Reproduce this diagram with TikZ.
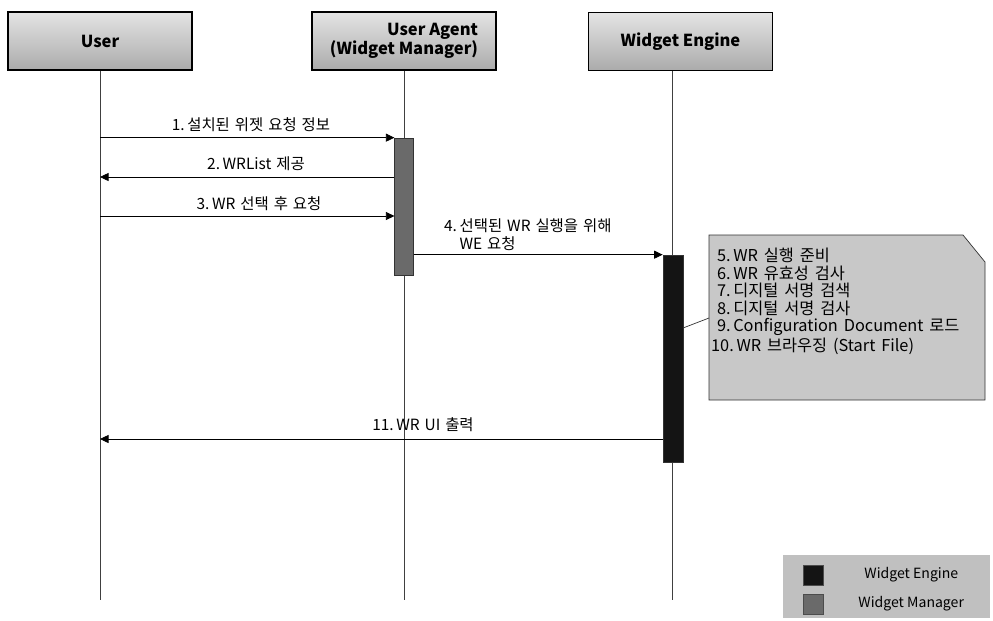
\documentclass[tikz,border=0pt]{standalone}
\usepackage{fontspec}
\setmainfont{Noto Sans CJK KR}
\usetikzlibrary{arrows.meta, positioning}
\definecolor{hdrTop}{HTML}{E4E4E4}
\definecolor{hdrBot}{HTML}{ABABAB}
\definecolor{wmGray}{HTML}{6A6A6A}
\definecolor{weBlack}{HTML}{141414}
\definecolor{noteGray}{HTML}{C8C8C8}
\definecolor{legGray}{HTML}{C0C0C0}
\newcommand\msgfont{\fontsize{8.8}{10}\selectfont\spaceskip 0.32em\relax}
\newcommand\notefont{\fontsize{9.3}{10}\selectfont\spaceskip 0.36em\relax}

\begin{document}
\begin{tikzpicture}[x=0.02cm, y=-0.02cm,
  actor/.style={draw=black, thick, top color=hdrTop, bottom color=hdrBot,
                minimum width=3.68cm, minimum height=1.16cm,
                font=\fontsize{9.4}{10.8}\selectfont\bfseries, align=right},
  life/.style={draw=black!75, thin},
  bar/.style={draw=black!80, minimum width=0.37cm, inner sep=0pt},
  msg/.style={draw=black, thin, -{Triangle[length=1.7mm, width=1.6mm]}},
  lbl/.style={font={\msgfont}, inner sep=1pt},
  legtxt/.style={font=\fontsize{8}{10}\selectfont, inner sep=1pt}]
  \useasboundingbox (0,0) rectangle (993,620);

  % participants
  \node[actor] (user) at (100,41) {User};
  \node[actor] (ua) at (404,41) {User Agent\\(Widget Manager)};
  \node[actor] (we) at (680.5,41.5) {Widget Engine};

  % lifelines
  \coordinate (lifeEnd) at (0,600);
  \coordinate (weTop) at (672,71);
  \draw[life] (user.south) -- (user.south |- lifeEnd);
  \draw[life] (ua.south) -- (ua.south |- lifeEnd);
  \draw[life] (weTop) -- (weTop |- lifeEnd);

  % activation bars
  \node[bar, fill=wmGray, minimum height=2.74cm] (uab) at (404,206.5) {};
  \node[bar, fill=weBlack, minimum width=0.4cm, minimum height=4.14cm] (web) at (673,358.5) {};

  % messages
  \coordinate (m2) at (0,177);
  \coordinate (m3) at (0,216);
  \coordinate (m11) at (0,439);
  \draw[msg] (user |- uab.north) -- (uab.north west);
  \draw[msg] (uab.west |- m2) -- (user |- m2);
  \draw[msg] (user |- m3) -- (uab.west |- m3);
  \draw[msg] (uab.east |- web.north) -- (web.north west);
  \draw[msg] (web.west |- m11) -- (user |- m11);

  \node[lbl] (l1) at (251,125) {1.\,설치된 위젯 요청 정보};
  \node[lbl] (l2) at (256,164) {2.\,WRList 제공};
  \node[lbl] (l3) at (259,204) {3.\,WR 선택 후 요청};
  \node[lbl, align=left, anchor=north west] (l4) at (442,217)
       {4.\,선택된 WR 실행을 위해\\\phantom{4.\,}WE 요청};
  \node[lbl] (l11) at (423,425) {11.\,WR UI 출력};

  % note
  \draw[draw=black!80, fill=noteGray] (709,235) -- (963,235) -- (985,262)
       -- (985,400) -- (709,400) -- cycle;
  \coordinate (noteL) at (709,318);
  \coordinate (webR) at (683,328);
  \draw[draw=black!80] (webR) -- (noteL);
  \node[lbl, align=left, anchor=north west, font={\notefont}] (steps) at (709,246)
       {\ 5.\,WR 실행 준비\\\ 6.\,WR 유효성 검사\\\ 7.\,디지털 서명 검색\\\ 8.\,디지털 서명 검사\\
        \ 9.\,Configuration Document 로드\\10.\,WR 브라우징 (Start File)};

  % legend
  \fill[legGray] (783,555) rectangle (990,618);
  \node[draw=black!70, fill=weBlack, minimum size=0.4cm, inner sep=0pt] (legWE) at (813,575) {};
  \node[draw=black!70, fill=wmGray, minimum size=0.4cm, inner sep=0pt] (legWM) at (813,604) {};
  \node[legtxt, right=0.78cm of legWE] {Widget Engine};
  \node[legtxt, right=0.66cm of legWM] {Widget Manager};
\end{tikzpicture}
\end{document}
